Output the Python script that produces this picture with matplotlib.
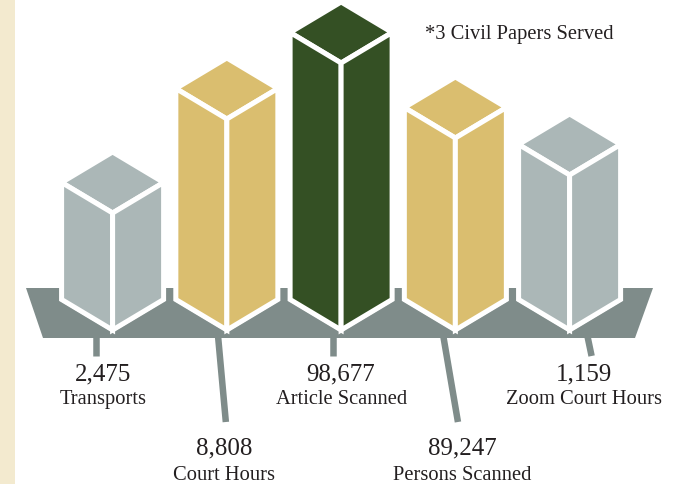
import matplotlib
matplotlib.use("Agg")
import matplotlib.pyplot as plt
from matplotlib.patches import Polygon, Rectangle

# ---------------- data ----------------
categories = ["Transports", "Court Hours", "Article Scanned", "Persons Scanned", "Zoom Court Hours"]
values = [2475, 8808, 98677, 89247, 1159]
value_labels = ["2,475", "8,808", "98,677", "89,247", "1,159"]
# decorative bar heights as drawn in the infographic (not proportional to values)
bar_heights = [178, 272, 328, 253, 216]
footnote = "*3 Civil Papers Served"

# ---------------- style / layout ----------------
GRAY = "#ABB7B7"
GOLD = "#DABE6F"
GREEN = "#345024"
PLATFORM = "#7F8C8A"
CREAM = "#F3EACF"
TEXT = "#231F20"
bar_colors = [GRAY, GOLD, GREEN, GOLD, GRAY]

x0, step = 112.6, 114.25
half_w, half_h = 51, 30.5
label_row = [0, 1, 0, 1, 0]
leader_top_dx = [-16.6, -9, -8, -12.4, 17.4]
leader_bot_dx = [-16.6, -1, -8, 2.6, 22]
label_dx = [-9.6, -2.9, 0, 6.6, 14.4]
row_leader_end = [-26, -92]
row_num_y = [-49, -123]
row_name_y = [-73, -149]

plt.rcParams['font.family'] = ['Liberation Serif', 'DejaVu Serif']

fig = plt.figure(figsize=(6.88, 4.85), dpi=100)
ax = fig.add_axes([0, 0, 1, 1])
ax.set_xlim(0, 688)
ax.set_ylim(-154, 331)
ax.axis("off")

# cream strip on the left
ax.add_patch(Rectangle((0, -154), 15, 485, facecolor=CREAM, edgecolor="none", zorder=0))

# platform
ax.add_patch(Polygon([(26, 42), (653, 42), (635, -8), (43, -8)], closed=True,
                     facecolor=PLATFORM, edgecolor="none", zorder=2))

px_lw = 0.72  # points per pixel at dpi 100
for i, (H, col) in enumerate(zip(bar_heights, bar_colors)):
    cx = x0 + i * step
    w, h = half_w, half_h
    sil = [(cx, H), (cx - w, H - h), (cx - w, h), (cx, 0), (cx + w, h), (cx + w, H - h)]
    ax.add_patch(Polygon(sil, closed=True, facecolor="white", edgecolor="white",
                         linewidth=4 * px_lw, joinstyle="miter", zorder=3))
    top = [(cx, H), (cx - w, H - h), (cx, H - 2 * h), (cx + w, H - h)]
    left = [(cx - w, H - h), (cx, H - 2 * h), (cx, 0), (cx - w, h)]
    right = [(cx + w, H - h), (cx, H - 2 * h), (cx, 0), (cx + w, h)]
    for poly in (top, left, right):
        ax.add_patch(Polygon(poly, closed=True, facecolor=col, edgecolor="white",
                             linewidth=5 * px_lw, joinstyle="miter", zorder=4))

    # leader line
    r = label_row[i]
    ax.plot([cx + leader_top_dx[i], cx + leader_bot_dx[i]], [-4, row_leader_end[r]],
            color=PLATFORM, linewidth=6.5 * px_lw, solid_capstyle="butt", zorder=1)

    # labels
    lx = cx + label_dx[i]
    ax.text(lx, row_num_y[r], value_labels[i], ha="center", va="baseline",
            fontsize=18, color=TEXT, zorder=5)
    ax.text(lx, row_name_y[r], categories[i], ha="center", va="baseline",
            fontsize=14.8, color=TEXT, zorder=5)

ax.text(425, 292, footnote, ha="left", va="baseline", fontsize=14.8, color=TEXT, zorder=5)

fig.savefig("out.png", dpi=100)
